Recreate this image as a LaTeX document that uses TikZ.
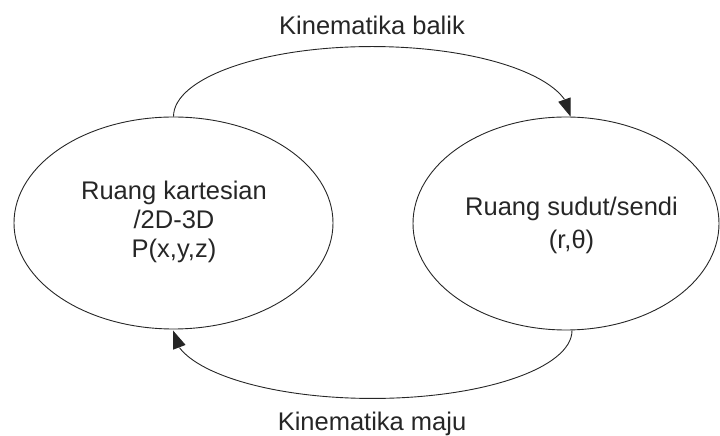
\documentclass[tikz,border=0pt]{standalone}
\usepackage{fontspec}
\setmainfont{Liberation Sans}
\usetikzlibrary{arrows.meta,bending,shapes.geometric}
\begin{document}
\begin{tikzpicture}[x=1pt,y=1pt,
  space/.style={ellipse,draw=black!85,line width=0.9pt,inner sep=0pt},
  txt/.style={align=center,text=black!85,font=\fontsize{25.5}{29}\selectfont,inner sep=0pt},
  lbl/.style={text=black!85,font=\fontsize{25.5}{29}\selectfont,inner sep=0pt,anchor=base},
  conn/.style={draw=black!85,line width=0.9pt,-{Triangle[length=18pt,width=13pt,flex]}}]
\useasboundingbox (0,0) rectangle (720,436);
\node[space,minimum width=319pt,minimum height=212pt] (L) at (173.5,213) {};
\node[space,minimum width=306pt,minimum height=213pt] (R) at (566,212.5) {};
\node[txt] (Lt) at (174,213.6) {Ruang kartesian\\/2D-3D\\P(x,y,z)};
\node[txt,font=\fontsize{25.5}{33}\selectfont] (Rt) at (571.5,211) {Ruang sudut/sendi\\(r,θ)};
\draw[conn] (L.north) arc[start angle=180,end angle=0,x radius=198.5,y radius=70];
\draw[conn] ([xshift=6pt]R.south) arc[start angle=0,end angle=-180,x radius=199.5,y radius=68];
\node[lbl] (top) at (372,401) {Kinematika balik};
\node[lbl] (bot) at (372,5) {Kinematika maju};
\end{tikzpicture}
\end{document}
